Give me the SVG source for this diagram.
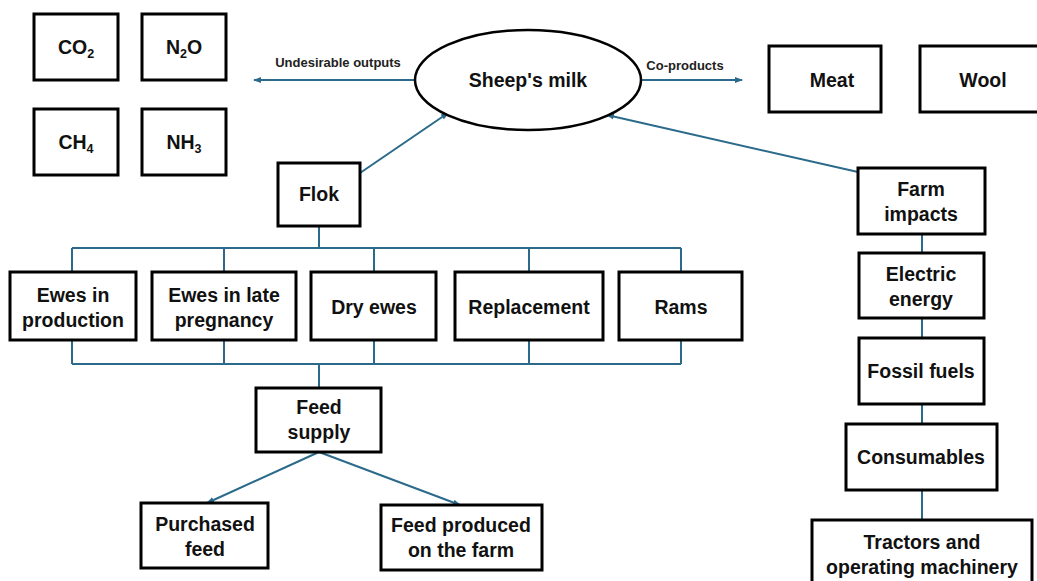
<svg xmlns="http://www.w3.org/2000/svg" width="1037" height="581" viewBox="0 0 1037 581">
<style>
.b{fill:#fff;stroke:#000;stroke-width:3}
.t{font-family:"Liberation Sans",Arial,sans-serif;font-weight:bold;font-size:19.5px;fill:#111;text-anchor:middle}
.s{font-family:"Liberation Sans",Arial,sans-serif;font-weight:bold;font-size:13px;fill:#222;text-anchor:middle}
.c{fill:none;stroke:#2b6a8a;stroke-width:2}
</style>
<defs>
<marker id="ah" markerWidth="8" markerHeight="8" refX="7" refY="4" orient="auto" markerUnits="userSpaceOnUse">
<path d="M0,1 L8,4 L0,7 Z" fill="#2b6a8a"/>
</marker>
</defs>
<rect width="1037" height="581" fill="#fff"/>
<g id="connectors">
<line class="c" x1="415" y1="80" x2="254" y2="80" marker-end="url(#ah)"/>
<line class="c" x1="641" y1="80" x2="742" y2="80" marker-end="url(#ah)"/>
<line class="c" x1="360" y1="173" x2="448" y2="113" marker-end="url(#ah)"/>
<line class="c" x1="858" y1="172" x2="607" y2="115" marker-end="url(#ah)"/>
<path class="c" d="M319,226 V248 M72,248 H681 M72,248 V272 M224,248 V272 M374,248 V272 M529,248 V272 M681,248 V272"/>
<path class="c" d="M72,340 V364 M224,340 V364 M374,340 V364 M529,340 V364 M681,340 V364 M72,364 H681 M319,364 V388"/>
<line class="c" x1="319" y1="452" x2="207" y2="503" marker-end="url(#ah)"/>
<line class="c" x1="319" y1="452" x2="460" y2="505" marker-end="url(#ah)"/>
<path class="c" d="M922,234 V253 M922,318 V338 M922,404 V424 M922,490 V520"/>
<text class="s" x="338" y="67">Undesirable outputs</text>
<text class="s" x="685" y="70">Co-products</text>
</g>
<g id="co2"><rect class="b" x="34" y="14" width="84" height="66"/><text class="t" x="76" y="54">CO<tspan font-size="12.5" dy="4">2</tspan></text></g>
<g id="n2o"><rect class="b" x="142" y="14" width="84" height="66"/><text class="t" x="184" y="54">N<tspan font-size="12.5" dy="4">2</tspan><tspan dy="-4">O</tspan></text></g>
<g id="ch4"><rect class="b" x="34" y="109" width="84" height="66"/><text class="t" x="76" y="149">CH<tspan font-size="12.5" dy="4">4</tspan></text></g>
<g id="nh3"><rect class="b" x="142" y="109" width="84" height="66"/><text class="t" x="184" y="149">NH<tspan font-size="12.5" dy="4">3</tspan></text></g>
<g id="milk"><ellipse cx="528" cy="80" rx="113" ry="50" fill="#fff" stroke="#000" stroke-width="2.5"/><text class="t" x="528" y="87">Sheep's milk</text></g>
<g id="meat"><rect class="b" x="769" y="46" width="112" height="66"/><text class="t" x="832" y="87">Meat</text></g>
<g id="wool"><rect class="b" x="920" y="46" width="122" height="66"/><text class="t" x="983" y="87">Wool</text></g>
<g id="flok"><rect class="b" x="278" y="163" width="82" height="63"/><text class="t" x="319" y="201">Flok</text></g>
<g id="farm"><rect class="b" x="858" y="168" width="127" height="66"/><text class="t" x="921" y="196">Farm</text><text class="t" x="921" y="221">impacts</text></g>
<g id="ewesprod"><rect class="b" x="10" y="272" width="126" height="68"/><text class="t" x="73" y="302">Ewes in</text><text class="t" x="73" y="327">production</text></g>
<g id="ewespreg"><rect class="b" x="152" y="272" width="144" height="68"/><text class="t" x="224" y="302">Ewes in late</text><text class="t" x="224" y="327">pregnancy</text></g>
<g id="dry"><rect class="b" x="311" y="272" width="125" height="68"/><text class="t" x="374" y="314">Dry ewes</text></g>
<g id="repl"><rect class="b" x="455" y="272" width="148" height="68"/><text class="t" x="529" y="314">Replacement</text></g>
<g id="rams"><rect class="b" x="619" y="272" width="123" height="68"/><text class="t" x="681" y="314">Rams</text></g>
<g id="feed"><rect class="b" x="256" y="388" width="125" height="64"/><text class="t" x="319" y="414">Feed</text><text class="t" x="319" y="439">supply</text></g>
<g id="purch"><rect class="b" x="141" y="503" width="127" height="65"/><text class="t" x="205" y="531">Purchased</text><text class="t" x="205" y="556">feed</text></g>
<g id="onfarm"><rect class="b" x="381" y="505" width="161" height="65"/><text class="t" x="461" y="532">Feed produced</text><text class="t" x="461" y="557">on the farm</text></g>
<g id="elec"><rect class="b" x="859" y="253" width="125" height="65"/><text class="t" x="921" y="281">Electric</text><text class="t" x="921" y="306">energy</text></g>
<g id="fossil"><rect class="b" x="859" y="338" width="125" height="66"/><text class="t" x="921" y="378">Fossil fuels</text></g>
<g id="cons"><rect class="b" x="846" y="424" width="151" height="66"/><text class="t" x="921" y="464">Consumables</text></g>
<g id="tract"><rect class="b" x="812" y="520" width="220" height="66"/><text class="t" x="922" y="549">Tractors and</text><text class="t" x="922" y="574">operating machinery</text></g>
</svg>
